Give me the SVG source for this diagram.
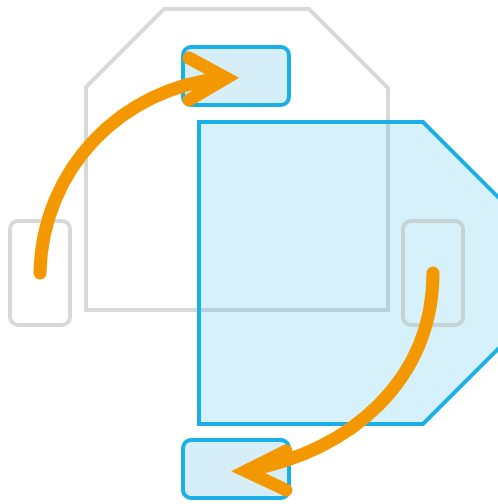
<svg xmlns="http://www.w3.org/2000/svg" width="498" height="504" viewBox="0 0 498 504">
<style>
.gray{fill:none;stroke:#d9d9d9;stroke-width:4;stroke-linejoin:miter}
.big{fill:#1aafe6;fill-opacity:0.18;stroke:#1aafe6;stroke-width:4}
.gbox{fill:none;stroke:#b8b8b8;stroke-opacity:0.55;stroke-width:4}
.bbox{fill:#d6eef8;stroke:#1aafe6;stroke-width:4}
.arc{fill:none;stroke:#f39800;stroke-width:13;stroke-linecap:round;stroke-linejoin:miter}
</style>
<g id="gray-octagon"><polygon class="gray" points="164,9 309,9 388,88 388,310 86,310 86,87"/></g>
<g id="blue-octagon"><polygon class="big" points="199,122 423,122 512,211 512,335 423,424 199,424"/></g>
<g id="gray-box-left"><rect class="gbox" x="10" y="221" width="60" height="104" rx="8"/></g>
<g id="gray-box-right"><rect class="gbox" x="403" y="221" width="60" height="104" rx="8"/></g>
<g id="blue-box-top"><rect class="bbox" x="183" y="47" width="106" height="58" rx="8"/></g>
<g id="blue-box-bottom"><rect class="bbox" x="183" y="440" width="106" height="58" rx="8"/></g>
<g id="connectors">
<path class="arc" d="M40,273 C42,170 120,88 224,78"/>
<path class="arc" d="M189,58 L226,78 L189,100"/>
<path class="arc" d="M433,273 C433,380 350,452 248,470"/>
<path class="arc" d="M286,451 L246,471 L286,490"/>
</g>
</svg>
